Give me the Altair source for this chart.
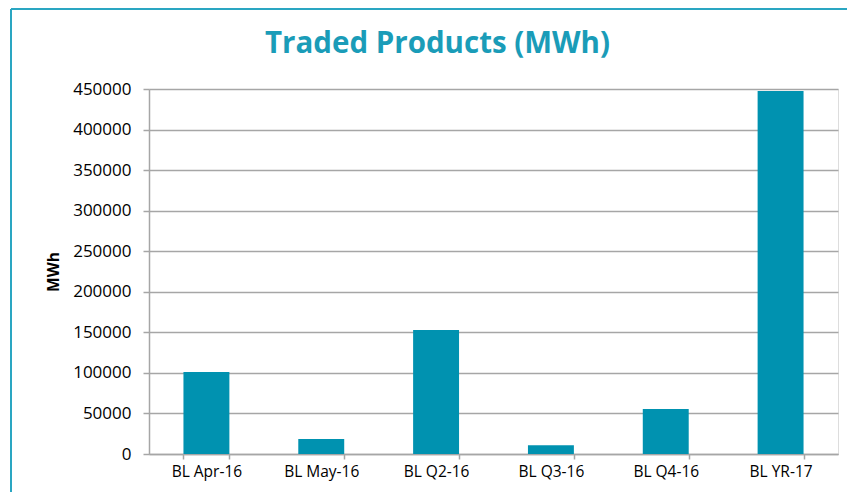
import altair as alt
import pandas as pd

products = ["BL Apr-16", "BL May-16", "BL Q2-16", "BL Q3-16", "BL Q4-16", "BL YR-17"]
mwh = [101000, 18500, 153000, 10700, 55400, 447400]
y_ticks = [0, 50000, 100000, 150000, 200000, 250000, 300000, 350000, 400000, 450000]

df = pd.DataFrame({"product": products, "mwh": mwh})

W, H = 689, 365
PAD_L, PAD_T, PAD_R, PAD_B = 141, 81, 9, 38
FONT = "Open Sans"
GRAY = "#a6a6a6"
TEAL_BAR = "#0092b0"
TEAL_TITLE = "#1a9cb8"
TEAL_FRAME = "#2aa6c2"

bars = alt.Chart(df).mark_bar(color=TEAL_BAR).encode(
    x=alt.X(
        "product:N",
        sort=products,
        scale=alt.Scale(paddingInner=0.6, paddingOuter=0.3),
        axis=alt.Axis(
            title=None,
            labelAngle=0,
            labelFont=FONT,
            labelFontSize=15.5,
            labelColor="#000000",
            labelPadding=5,
            tickBand="extent",
            tickSize=5,
            tickColor=GRAY,
            tickWidth=1.5,
            domainColor=GRAY,
            domainWidth=1.5,
        ),
    ),
    y=alt.Y(
        "mwh:Q",
        scale=alt.Scale(domain=[0, 450000], nice=False),
        axis=alt.Axis(
            title="MWh",
            titleFont=FONT,
            titleFontSize=15.5,
            titleFontWeight="bold",
            titleColor="#000000",
            titleAngle=-90,
            titleX=-96,
            titleY=H / 2,
            titleAlign="center",
            titleBaseline="middle",
            values=y_ticks,
            format="d",
            labelFont=FONT,
            labelFontSize=17,
            labelColor="#000000",
            labelPadding=12,
            tickSize=6,
            tickColor=GRAY,
            tickWidth=1.5,
            grid=True,
            gridColor=GRAY,
            gridWidth=1.5,
            domainColor=GRAY,
            domainWidth=1.5,
        ),
    ),
)

frame_df = pd.DataFrame({"k": [0]})
top_line = alt.Chart(frame_df).mark_rule(color=TEAL_FRAME, strokeWidth=2).encode(
    x=alt.value(-138), x2=alt.value(W + PAD_R + 5), y=alt.value(-PAD_T + 1)
)
left_line = alt.Chart(frame_df).mark_rule(color=TEAL_FRAME, strokeWidth=2).encode(
    x=alt.value(-138), y=alt.value(-PAD_T + 1), y2=alt.value(H + PAD_B + 5)
)

chart = alt.layer(bars, top_line, left_line).properties(
    width=W,
    height=H,
    padding={"left": PAD_L, "top": PAD_T, "right": PAD_R, "bottom": PAD_B},
    autosize=alt.AutoSizeParams(type="none"),
    title=alt.TitleParams(
        "Traded Products (MWh)",
        font=FONT,
        fontSize=29.5,
        fontWeight="bold",
        color=TEAL_TITLE,
        anchor="middle",
        frame="group",
        dx=-56,
        dy=33,
        offset=-47,
        baseline="bottom",
    ),
).configure_view(stroke=None).configure(background="white")

chart.save("out.html", embed_options={"renderer": "svg", "actions": False})
